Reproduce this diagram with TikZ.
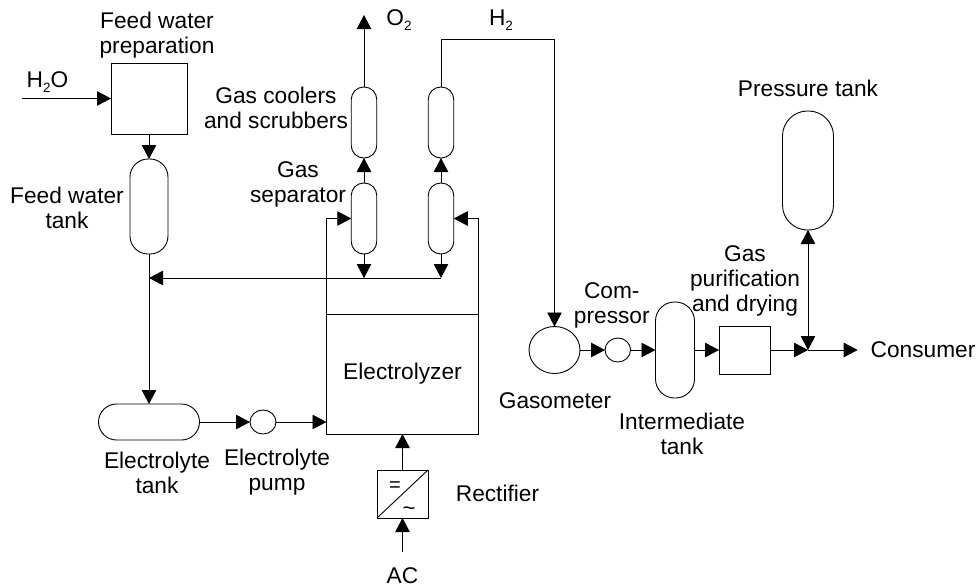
\documentclass[tikz,border=0pt]{standalone}
\usepackage{fontspec}
\setmainfont{Liberation Sans}
\usetikzlibrary{arrows.meta,shapes.geometric}
\newcommand{\subtwo}{\raisebox{-5.5pt}{\fontsize{13.5}{14}\selectfont 2}}
\begin{document}
\begin{tikzpicture}[
        x=1pt, y=-1pt,
        node distance=100pt,
        lbl/.style={font=\fontsize{22.7}{25}\selectfont, align=center, inner sep=0pt},
        unit/.style={draw, rectangle, inner sep=0pt, outer sep=0pt, font=\fontsize{22.7}{25}\selectfont},
        vessel/.style={unit, rounded corners=#1},
        rotary/.style={draw, ellipse, inner sep=0pt, outer sep=0pt},
        arrow/.style={-{Triangle[length=14pt,width=14.5pt]}},
        twoway/.style={{Triangle[length=14pt,width=14.5pt]}-{Triangle[length=14pt,width=14.5pt]}},
        every path/.append style={line width=0.9pt}
    ]
    \useasboundingbox (0,0) rectangle (978,587);

    % Feed water and electrolyte
    \node (prep) [unit, minimum width=76pt, minimum height=71pt] at (149,98.5) {};
    \node (feedtank) [vessel=18pt, minimum width=38pt, minimum height=95pt, below of=prep, yshift=-8pt] {};
    \node (electank) [vessel=18pt, minimum width=101pt, minimum height=36pt, below of=feedtank, yshift=-115.5pt] {};
    \node (pump) [rotary, minimum width=26pt, minimum height=24pt, right of=electank, xshift=14pt] {};

    % Electrolyzer and gas columns
    \node (lyzer) [unit, minimum width=152pt, minimum height=120pt, right of=pump, xshift=39.5pt, yshift=48pt] {Electrolyzer};
    \node (rect) [unit, minimum width=51pt, minimum height=48pt, below of=lyzer, yshift=-20pt] {};
    \node (sepO) [vessel=12.5pt, minimum width=25.5pt, minimum height=71pt, above of=lyzer, xshift=-38.5pt, yshift=55.5pt] {};
    \node (sepH) [vessel=12.5pt, minimum width=25.5pt, minimum height=71pt, right of=sepO, xshift=-23pt] {};
    \node (coolO) [vessel=12.5pt, minimum width=25.5pt, minimum height=71pt, above of=sepO, yshift=-4pt] {};
    \node (coolH) [vessel=12.5pt, minimum width=25.5pt, minimum height=71pt, right of=coolO, xshift=-23pt] {};

    % Gas storage line
    \node (gasometer) [rotary, minimum width=51pt, minimum height=47pt, right of=lyzer, xshift=52pt, yshift=24pt] {};
    \node (compressor) [rotary, minimum width=25.5pt, minimum height=24pt, right of=gasometer, xshift=-36.7pt] {};
    \node (inter) [vessel=19pt, minimum width=39pt, minimum height=96pt, right of=compressor, xshift=-42.8pt] {};
    \node (purif) [unit, minimum width=51pt, minimum height=48pt, right of=inter, xshift=-30.5pt] {};
    \coordinate [right of=purif, xshift=-36.5pt] (junc);
    \node (pressure) [vessel=25pt, minimum width=51pt, minimum height=119pt, above of=junc, yshift=79.5pt] {};

    % Free line ends
    \coordinate [left of=prep, xshift=-27pt] (waterin);
    \coordinate [below of=rect, yshift=42pt] (acin);
    \coordinate [above of=coolO, yshift=7.5pt] (oxout);
    \coordinate [above of=coolH, yshift=-16.5pt] (hturn);
    \coordinate [below of=sepO, yshift=40.5pt] (retO);
    \coordinate [below of=sepH, yshift=40.5pt] (retH);
    \coordinate [right of=junc, xshift=-50.3pt] (consout);

    % Labels
    \node (lblprep) [lbl, above of=prep, xshift=8pt, yshift=-36.5pt] {Feed water\\preparation};
    \node (lblwater) [lbl, left of=prep, xshift=-1.5pt, yshift=16.5pt] {H\subtwo O};
    \node (lblfeed) [lbl, left of=feedtank, xshift=18pt, yshift=-1.5pt] {Feed water\\tank};
    \node (lblcool) [lbl, left of=coolO, xshift=12pt, yshift=15pt] {Gas coolers\\and scrubbers};
    \node (lblsep) [lbl, left of=sepO, xshift=34pt, yshift=34pt] {Gas\\separator};
    \node (lbltank) [lbl, below of=electank, xshift=8pt, yshift=49.5pt] {Electrolyte\\tank};
    \node (lblpump) [lbl, below of=pump, xshift=14pt, yshift=49.5pt] {Electrolyte\\pump};
    \node (lblrect) [lbl, right of=rect, xshift=-5pt, yshift=1pt] {Rectifier};
    \node (lblac) [lbl, below of=rect, yshift=18.5pt] {AC};
    \node (lbloxy) [lbl, right of=oxout, xshift=-65pt, yshift=-5pt] {O\subtwo};
    \node (lblhyd) [lbl, right of=hturn, xshift=-40pt, yshift=19pt] {H\subtwo};
    \node (lblgaso) [lbl, below of=gasometer, xshift=0.5pt, yshift=49.3pt] {Gasometer};
    \node (lblcomp) [lbl, above of=compressor, xshift=-6pt, yshift=-55pt] {Com-\\pressor};
    \node (lblinter) [lbl, below of=inter, xshift=7pt, yshift=16pt] {Intermediate\\tank};
    \node (lblpurif) [lbl, above of=purif, xshift=0.5pt, yshift=-31pt] {Gas\\purification\\and drying};
    \node (lblpress) [lbl, above of=pressure, yshift=-17.5pt] {Pressure tank};
    \node (lblcons) [lbl, right of=consout, xshift=-34.7pt] {Consumer};
    \node (lbleq) [lbl, font=\fontsize{20}{22}\selectfont, left of=rect, xshift=92.5pt, yshift=7pt] {=};
    \node (lbltilde) [lbl, font=\fontsize{22}{24}\selectfont, right of=rect, xshift=-93.5pt, yshift=-16.7pt] {\textasciitilde};

    % Arrows
    \draw [arrow] (waterin) -- (prep);
    \draw [arrow] (prep) -- (feedtank);
    \draw [arrow] (feedtank) -- (electank);
    \draw [arrow] (electank) -- (pump);
    \draw [arrow] (pump) -- (pump -| lyzer.west);
    \draw [arrow] (rect) -- (lyzer);
    \draw [arrow] (acin) -- (rect);
    \draw (rect.south west) -- (rect.north east);
    \draw [arrow] (lyzer.north west) |- (sepO.west);
    \draw [arrow] (lyzer.north east) |- (sepH.east);
    \draw [arrow] (sepO) -- (coolO);
    \draw [arrow] (sepH) -- (coolH);
    \draw [arrow] (coolO) -- (oxout);
    \draw [arrow] (sepO) -- (retO);
    \draw [arrow] (sepH) -- (retH);
    \draw [arrow] (retH) -- (retH -| feedtank);
    \draw [arrow] (coolH) -- (hturn) -| (gasometer);
    \draw [arrow] (gasometer) -- (compressor);
    \draw [arrow] (compressor) -- (inter);
    \draw [arrow] (inter) -- (purif);
    \draw [arrow] (purif) -- (junc);
    \draw [arrow] (junc) -- (consout);
    \draw [twoway] (pressure) -- (junc);
    \end{tikzpicture}
\end{document}
